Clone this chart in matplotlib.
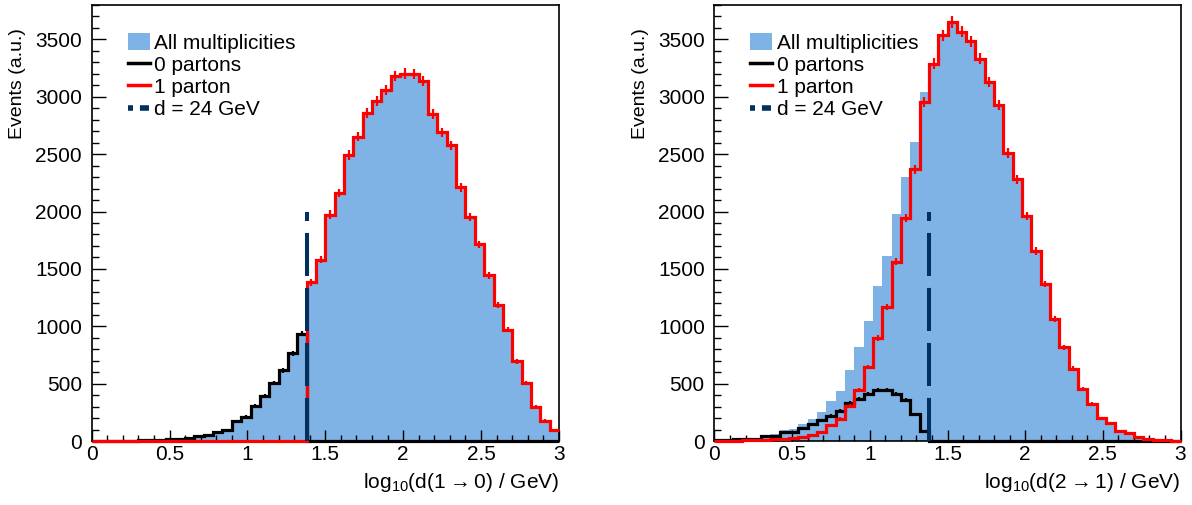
import numpy as np
import matplotlib
matplotlib.use("Agg")
import matplotlib.pyplot as plt
import matplotlib.ticker as mticker
from matplotlib.lines import Line2D
from matplotlib.patches import Patch

# ── Binning: 50 bins of log10(d / GeV) on [0, 3] ─────────────────────────────
BIN_EDGES = np.linspace(0.0, 3.0, 51)
CUT_GEV = 24          # merging scale
CUT_TOP = 2000        # height of the cut marker (events)

# ── d(1 -> 0) ─────────────────────────────────────────────────────────────────
L_ZERO = [2, 2, 3, 3, 4, 5, 8, 12, 14, 18,
          28, 40, 50, 78, 100, 172, 211, 308, 390, 508,
          617, 764, 936, 0, 0, 0, 0, 0, 0, 0,
          0, 0, 0, 0, 0, 0, 0, 0, 0, 0,
          0, 0, 0, 0, 0, 0, 0, 0, 0, 0]
L_ONE = [0, 0, 0, 0, 0, 0, 0, 0, 0, 0,
         0, 0, 0, 0, 0, 0, 0, 0, 0, 0,
         0, 0, 0, 1385, 1580, 1974, 2160, 2493, 2652, 2858,
         2960, 3058, 3180, 3203, 3197, 3139, 2850, 2690, 2578, 2211,
         1955, 1713, 1444, 1183, 971, 696, 502, 298, 177, 96]
L_ALL = [2, 2, 3, 3, 4, 5, 8, 12, 14, 18,
         28, 40, 50, 78, 100, 172, 211, 308, 390, 508,
         617, 764, 936, 1385, 1580, 1974, 2160, 2493, 2652, 2858,
         2960, 3058, 3180, 3203, 3197, 3139, 2850, 2690, 2578, 2211,
         1955, 1713, 1444, 1183, 971, 696, 502, 298, 177, 96]

# ── d(2 -> 1) ─────────────────────────────────────────────────────────────────
R_ZERO = [10, 12, 14, 16, 20, 44, 46, 80, 80, 112,
          150, 185, 220, 262, 332, 370, 410, 445, 443, 412,
          358, 236, 84, 0, 0, 0, 0, 0, 0, 0,
          0, 0, 0, 0, 0, 0, 0, 0, 0, 0,
          0, 0, 0, 0, 0, 0, 0, 0, 0, 0]
R_ONE = [3, 3, 4, 5, 6, 10, 14, 20, 25, 38,
         52, 81, 139, 195, 305, 444, 645, 900, 1170, 1562,
         1945, 2370, 2955, 3290, 3536, 3652, 3565, 3485, 3333, 3130,
         2927, 2510, 2282, 1960, 1658, 1368, 1066, 816, 630, 450,
         322, 198, 154, 90, 67, 38, 15, 9, 5, 3]
R_ALL = [13, 15, 18, 21, 26, 54, 60, 100, 105, 150,
         190, 250, 345, 440, 618, 816, 1045, 1348, 1611, 1980,
         2302, 2607, 3042, 3290, 3536, 3652, 3565, 3485, 3333, 3130,
         2927, 2510, 2282, 1960, 1658, 1368, 1066, 816, 630, 450,
         322, 198, 154, 90, 67, 38, 15, 9, 5, 3]

XLABELS = [r'log$_{10}$(d(1$\rightarrow$0) / GeV)',
           r'log$_{10}$(d(2$\rightarrow$1) / GeV)']
LEGEND_LABELS = ['All multiplicities', '0 partons', '1 parton',
                 f'd = {CUT_GEV} GeV']

# ── Style ─────────────────────────────────────────────────────────────────────
_BLUE = '#7fb2e5'
_RED = '#ff0000'
_NAVY = '#00305f'

plt.rcParams.update({
    'font.family': ['Liberation Sans', 'DejaVu Sans'],
    'mathtext.default': 'regular',
    'lines.scale_dashes': False,
})

fig = plt.figure(figsize=(11.92, 5.05), dpi=100)
ax_l = fig.add_axes([0.0769, 0.1267, 0.392, 0.8634])
ax_r = fig.add_axes([0.5994, 0.1267, 0.391, 0.8634])

centers = 0.5 * (BIN_EDGES[:-1] + BIN_EDGES[1:])


def draw(ax, h_all, h_zero, h_one, xlabel):
    ax.stairs(h_all, BIN_EDGES, fill=True, color=_BLUE, zorder=1)
    for vals, col in ((h_zero, 'black'), (h_one, _RED)):
        ax.stairs(vals, BIN_EDGES, color=col, lw=2.3, baseline=None,
                  zorder=3, clip_on=False)
        v = np.asarray(vals, dtype=float)
        m = v > 0
        ax.errorbar(centers[m], v[m], yerr=0.8 * np.sqrt(v[m]), fmt='none',
                    ecolor=col, elinewidth=1.6, capsize=0, zorder=3)
    cut = np.log10(CUT_GEV)
    ax.plot([cut, cut], [0, CUT_TOP], color=_NAVY, lw=2.9,
            dashes=(31, 8.6), dash_capstyle='butt', zorder=4)

    ax.set_xlim(0, 3)
    ax.set_ylim(0, 3800)
    ax.xaxis.set_major_locator(mticker.MultipleLocator(0.5))
    ax.xaxis.set_minor_locator(mticker.MultipleLocator(0.1))
    ax.yaxis.set_major_locator(mticker.MultipleLocator(500))
    ax.yaxis.set_minor_locator(mticker.MultipleLocator(100))
    ax.xaxis.set_major_formatter(mticker.FuncFormatter(lambda v, _: f'{v:g}'))
    ax.tick_params(which='both', direction='in', top=False, right=False,
                   labelsize=15, width=1.0, color='black')
    ax.tick_params(axis='y', which='major', length=10, pad=7)
    ax.tick_params(axis='y', which='minor', length=5)
    ax.tick_params(axis='x', which='major', length=8, pad=3)
    ax.tick_params(axis='x', which='minor', length=4)
    for sp in ax.spines.values():
        sp.set_linewidth(1.2)

    ax.text(-0.158, 0.947, 'Events (a.u.)', rotation=90, ha='center',
            va='top', fontsize=14, transform=ax.transAxes)
    ax.text(1.0, -0.108, xlabel, ha='right', va='baseline', fontsize=15,
            transform=ax.transAxes)

    handles = [
        Patch(facecolor=_BLUE, edgecolor='none', label=LEGEND_LABELS[0]),
        Line2D([0], [0], color='black', lw=2.5, label=LEGEND_LABELS[1]),
        Line2D([0], [0], color=_RED, lw=2.5, label=LEGEND_LABELS[2]),
        Line2D([0], [0], color=_NAVY, lw=4, dashes=(3.6, 5.0, 6.5, 5.0),
               label=LEGEND_LABELS[3]),
    ]
    ax.legend(handles=handles, loc='upper left', bbox_to_anchor=(0.077, 0.935),
              frameon=False, fontsize=15, handlelength=1.06, handleheight=0.87,
              handletextpad=0.2, labelspacing=0.12, borderpad=0,
              borderaxespad=0)


draw(ax_l, L_ALL, L_ZERO, L_ONE, XLABELS[0])
draw(ax_r, R_ALL, R_ZERO, R_ONE, XLABELS[1])

fig.savefig('out.png', dpi=100)
